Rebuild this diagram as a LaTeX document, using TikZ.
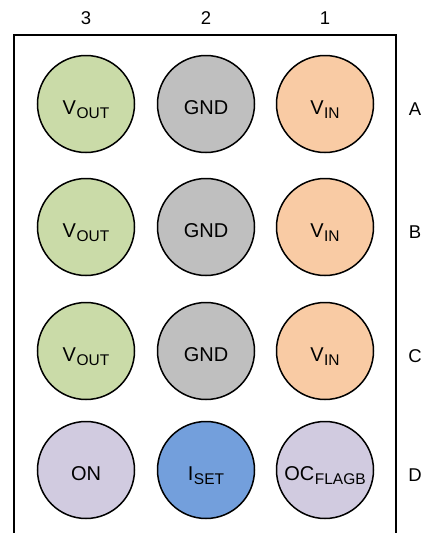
\documentclass[tikz,border=0pt]{standalone}
\usepackage{fontspec}
\setmainfont{Liberation Sans}
\definecolor{cgreen}{HTML}{CADBA8}
\definecolor{cgray}{HTML}{BFBFBF}
\definecolor{corange}{HTML}{F9CBA4}
\definecolor{clav}{HTML}{D1CBE0}
\definecolor{cblue}{HTML}{739FDC}
\newcommand{\pinsub}[2]{#1\kern0.5pt\raisebox{-4.5pt}{\fontsize{15.5}{16}\selectfont #2}}
\begin{document}
\begin{tikzpicture}[x=1pt,y=-1pt,
  pin/.style={circle,draw=black,line width=1.5pt,minimum size=97pt,inner sep=0pt,
    font=\fontsize{20}{22}\selectfont,text height=20pt,text depth=0pt},
  lbl/.style={font=\fontsize{18.5}{20}\selectfont,anchor=base,inner sep=0pt}]
\useasboundingbox (0,0) rectangle (427,533);
\coordinate (bl) at (14,533);
\coordinate (tl) at (14,35);
\coordinate (tr) at (396,35);
\coordinate (br) at (396,533);
\draw[line width=2pt] (bl) -- (tl) -- (tr) -- (br);
% column labels
\node[lbl] (c3) at (86,24) {3};
\node[lbl] (c2) at (206,24) {2};
\node[lbl] (c1) at (325,24) {1};
% row labels
\node[lbl] (rA) at (415,115) {A};
\node[lbl] (rB) at (415,238) {B};
\node[lbl] (rC) at (415,362) {C};
\node[lbl] (rD) at (415,481) {D};
% row A
\node[pin,fill=cgreen] (a3) at (86,104) {\pinsub{V}{OUT}};
\node[pin,fill=cgray] (a2) at (206,104) {GND};
\node[pin,fill=corange] (a1) at (325,104) {\pinsub{V}{IN}};
% row B
\node[pin,fill=cgreen] (b3) at (86,227) {\pinsub{V}{OUT}};
\node[pin,fill=cgray] (b2) at (206,227) {GND};
\node[pin,fill=corange] (b1) at (325,227) {\pinsub{V}{IN}};
% row C
\node[pin,fill=cgreen] (cc3) at (86,351) {\pinsub{V}{OUT}};
\node[pin,fill=cgray] (cc2) at (206,351) {GND};
\node[pin,fill=corange] (cc1) at (325,351) {\pinsub{V}{IN}};
% row D
\node[pin,fill=clav] (d3) at (86,470) {ON};
\node[pin,fill=cblue] (d2) at (206,470) {\pinsub{I}{SET}};
\node[pin,fill=clav] (d1) at (325,470) {\pinsub{OC}{FLAGB}};
\end{tikzpicture}
\end{document}
